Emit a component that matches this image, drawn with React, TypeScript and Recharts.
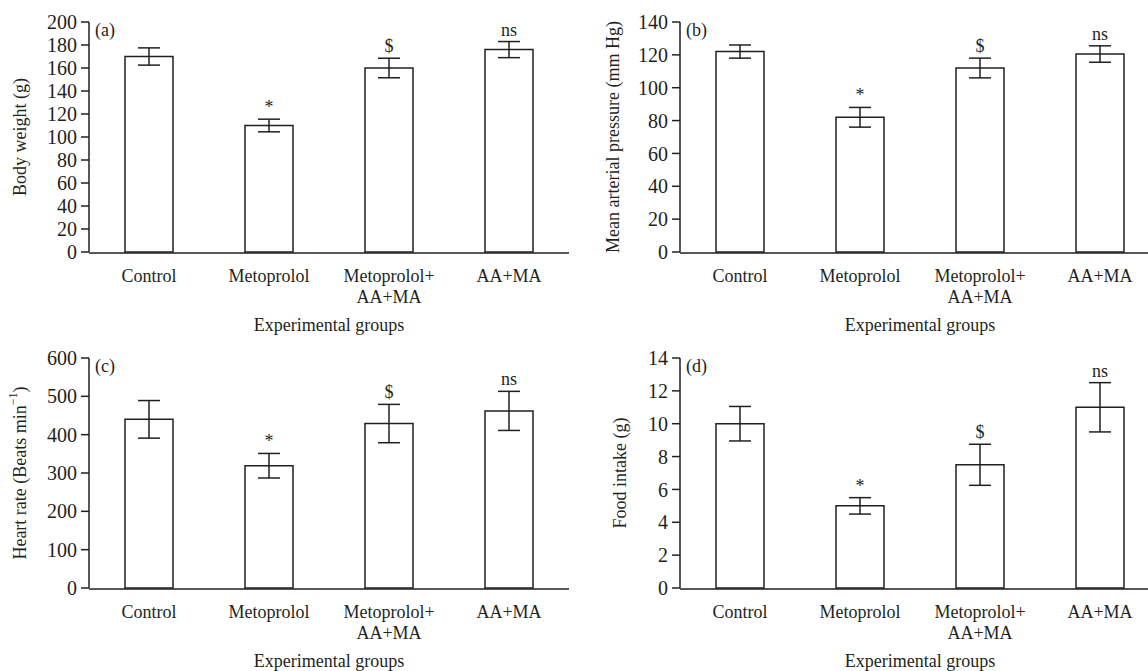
import React from 'react';
import { ComposedChart, Bar, XAxis, YAxis, ErrorBar, Line, LabelList } from 'recharts';

const groups = ['Control', 'Metoprolol', 'Metoprolol+\nAA+MA', 'AA+MA'];
const markers = ['', '*', '$', 'ns'];

const bodyWeight = [170, 110, 160, 176];
const bodyWeightErr = [7.5, 5.5, 8.5, 7];
const arterialPressure = [122, 82, 112, 120.5];
const arterialPressureErr = [4, 6, 6, 5];
const heartRate = [440, 319, 429, 462];
const heartRateErr = [49, 32, 50, 51];
const foodIntake = [10, 5, 7.5, 11];
const foodIntakeErr = [1.05, 0.5, 1.25, 1.5];

const ticksA = [0, 20, 40, 60, 80, 100, 120, 140, 160, 180, 200];
const ticksB = [0, 20, 40, 60, 80, 100, 120, 140];
const ticksC = [0, 100, 200, 300, 400, 500, 600];
const ticksD = [0, 2, 4, 6, 8, 10, 12, 14];
const boundaryTicks = [0, 1, 2, 3, 4];

const FONT = '"Liberation Serif", "Times New Roman", serif';
const INK = '#231f20';
const FS = 18;

function CatTick(props: any) {
  const { x, y, payload } = props;
  const lines = String(payload.value).split('\n');
  return (
    <text x={x} y={y} textAnchor="middle" fill={INK} fontSize={FS} fontFamily={FONT}>
      {lines.map((l, i) => (
        <tspan key={i} x={x} y={y + 30 + i * 21}>
          {l}
        </tspan>
      ))}
    </text>
  );
}

type PanelProps = {
  letter: string;
  yLabel: React.ReactNode;
  values: number[];
  errs: number[];
  ticks: number[];
  left: number;
  top: number;
  labelX: number;
};

function Panel({ letter, yLabel, values, errs, ticks, left, top, labelX }: PanelProps) {
  const data = groups.map((g, i) => ({
    group: g,
    value: values[i],
    err: errs[i],
    top: values[i] + errs[i],
    sig: markers[i],
  }));
  const max = ticks[ticks.length - 1];
  return (
    <div style={{ position: 'absolute', left, top }}>
      <ComposedChart
        width={574}
        height={340}
        data={data}
        margin={{ top: 22, right: 5, left: 0, bottom: 0 }}
        barCategoryGap="30%"
      >
        <XAxis
          xAxisId="grid"
          type="number"
          domain={[0, 4]}
          ticks={boundaryTicks}
          tick={false}
          height={87}
          tickSize={7}
          axisLine={{ stroke: INK, strokeWidth: 1.5 }}
          tickLine={{ stroke: INK, strokeWidth: 1.5 }}
          allowDataOverflow
        />
        <XAxis
          xAxisId="cat"
          dataKey="group"
          type="category"
          axisLine={false}
          tickLine={false}
          tickSize={0}
          tickMargin={0}
          interval={0}
          height={1}
          tick={(p: any) => <CatTick {...p} />}
          label={(p: any) => {
            const vb = p.viewBox || {};
            return (
              <text
                x={vb.x + vb.width / 2}
                y={vb.y + 79}
                textAnchor="middle"
                fill={INK}
                fontSize={FS}
                fontFamily={FONT}
              >
                Experimental groups
              </text>
            );
          }}
        />
        <YAxis
          width={89}
          domain={[0, max]}
          ticks={ticks}
          interval={0}
          tickSize={8}
          tickMargin={4}
          axisLine={{ stroke: INK, strokeWidth: 1.5 }}
          tickLine={{ stroke: INK, strokeWidth: 1.5 }}
          tick={{ fill: INK, fontSize: 20, fontFamily: FONT }}
          label={(p: any) => {
            const vb = p.viewBox || {};
            const cx = vb.x + labelX;
            const cy = vb.y + vb.height / 2;
            return (
              <g>
                <text
                  x={cx}
                  y={cy}
                  transform={`rotate(-90, ${cx}, ${cy})`}
                  textAnchor="middle"
                  dominantBaseline="central"
                  fill={INK}
                  fontSize={FS}
                  fontFamily={FONT}
                >
                  {yLabel}
                </text>
                <text
                  x={vb.x + vb.width + 6}
                  y={vb.y + 14}
                  fill={INK}
                  fontSize={FS}
                  fontFamily={FONT}
                >
                  {letter}
                </text>
              </g>
            );
          }}
        />
        <Bar
          xAxisId="cat"
          dataKey="value"
          fill="#ffffff"
          stroke={INK}
          strokeWidth={1.5}
          isAnimationActive={false}
        >
          <ErrorBar dataKey="err" width={11} stroke={INK} strokeWidth={1.5} />
        </Bar>
        <Line
          xAxisId="cat"
          dataKey="top"
          stroke="none"
          dot={false}
          activeDot={false}
          legendType="none"
          isAnimationActive={false}
        >
          <LabelList dataKey="sig" position="top" offset={6} fill={INK} fontSize={FS} fontFamily={FONT} />
        </Line>
      </ComposedChart>
    </div>
  );
}

export default function App() {
  return (
    <div
      style={{
        position: 'absolute',
        left: 0,
        top: 0,
        width: 1148,
        height: 671,
        overflow: 'hidden',
        background: '#ffffff',
      }}
    >
      <Panel
        letter="(a)"
        yLabel="Body weight (g)"
        values={bodyWeight}
        errs={bodyWeightErr}
        ticks={ticksA}
        left={0}
        top={0}
        labelX={20}
      />
      <Panel
        letter="(b)"
        yLabel="Mean arterial pressure (mm Hg)"
        values={arterialPressure}
        errs={arterialPressureErr}
        ticks={ticksB}
        left={591}
        top={0}
        labelX={22}
      />
      <Panel
        letter="(c)"
        yLabel={
          <>
            <tspan>Heart rate (Beats min</tspan>
            <tspan dy={-7} fontSize={12}>−1</tspan>
            <tspan dy={7}>)</tspan>
          </>
        }
        values={heartRate}
        errs={heartRateErr}
        ticks={ticksC}
        left={0}
        top={336}
        labelX={20}
      />
      <Panel
        letter="(d)"
        yLabel="Food intake (g)"
        values={foodIntake}
        errs={foodIntakeErr}
        ticks={ticksD}
        left={591}
        top={336}
        labelX={29}
      />
    </div>
  );
}
